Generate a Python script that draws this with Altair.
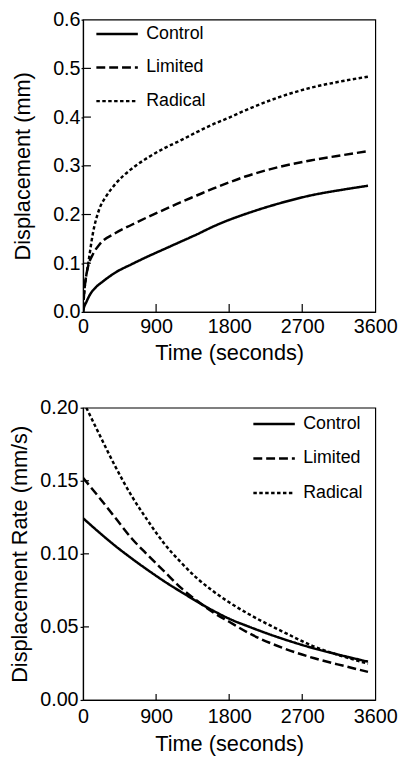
import altair as alt
import pandas as pd

FONT = "Liberation Sans"
SERIES = ["Control", "Limited", "Radical"]
DASHES = [[1, 0], [9, 4], [3.5, 2.5]]
X_LABELS = [0, 900, 1800, 2700, 3600]
X_INNER = [900, 1800, 2700]

# ---- top panel: displacement (mm) ----
disp_ctrl_t = [0, 10, 40, 80, 160, 240, 400, 600, 800, 1000, 1200, 1400, 1600, 1800, 2000, 2400, 2800, 3200, 3510]
disp_ctrl_v = [0, 0.008, 0.020, 0.034, 0.051, 0.062, 0.081, 0.098, 0.114, 0.129, 0.144, 0.159, 0.175, 0.189, 0.201, 0.222, 0.239, 0.251, 0.259]
disp_lim_t = [0, 10, 20, 40, 60, 120, 200, 400, 600, 800, 1000, 1200, 1400, 1600, 1800, 2000, 2400, 2800, 3200, 3510]
disp_lim_v = [0, 0.030, 0.050, 0.075, 0.092, 0.118, 0.138, 0.162, 0.179, 0.195, 0.210, 0.225, 0.239, 0.253, 0.266, 0.278, 0.297, 0.311, 0.322, 0.330]
disp_rad_t = [0, 10, 20, 40, 60, 120, 200, 280, 400, 600, 800, 1000, 1200, 1400, 1600, 1800, 2000, 2400, 2800, 3200, 3510]
disp_rad_v = [0, 0.030, 0.050, 0.075, 0.095, 0.160, 0.211, 0.236, 0.263, 0.294, 0.317, 0.336, 0.352, 0.369, 0.385, 0.399, 0.414, 0.440, 0.460, 0.474, 0.483]
disp_y_labels = [0, 0.1, 0.2, 0.3, 0.4, 0.5, 0.6]
disp_y_inner = [0.1, 0.2, 0.3, 0.4, 0.5]

# ---- bottom panel: displacement rate (mm/s) ----
rate_t = [0, 200, 400, 600, 800, 1000, 1200, 1400, 1600, 1800, 2050, 2450, 2850, 3250, 3510]
rate_ctrl = [0.1244, 0.1146, 0.1053, 0.0968, 0.0888, 0.0812, 0.0742, 0.0675, 0.0612, 0.0556, 0.0500, 0.0420, 0.0352, 0.0296, 0.0262]
rate_lim = [0.1520, 0.1385, 0.1245, 0.1105, 0.0990, 0.0880, 0.0770, 0.0680, 0.0600, 0.0535, 0.0455, 0.0358, 0.0285, 0.0228, 0.0192]
rate_rad_t = [40, 200, 400, 600, 800, 1000, 1200, 1400, 1600, 1800, 2050, 2450, 2850, 3250, 3510]
rate_rad = [0.2000, 0.1818, 0.1595, 0.1395, 0.1225, 0.1070, 0.0945, 0.0835, 0.0745, 0.0668, 0.0585, 0.0470, 0.0365, 0.0290, 0.0248]
rate_y_labels = [0, 0.05, 0.10, 0.15, 0.20]
rate_y_inner = [0.05, 0.10, 0.15]


def long_df(ts, vs):
    rows = []
    for name, t, v in zip(SERIES, ts, vs):
        rows += [{"series": name, "t": a, "v": b} for a, b in zip(t, v)]
    return pd.DataFrame(rows)


def panel(df, ytitle, ydomain, ylabels, yinner, yfmt, ytick, ylabpad, ytitlepad,
          xlabpad, xtitlepad, lx, ly, rowpad, w, h, inner_px):
    x_enc = alt.X("t:Q", scale=alt.Scale(domain=[0, 3600], nice=False, zero=False),
                  axis=alt.Axis(values=X_LABELS, format="d", title="Time (seconds)",
                                ticks=False, labelPadding=xlabpad, titlePadding=xtitlepad,
                                labelFlush=False, labelOverlap=False))
    y_enc = alt.Y("v:Q", scale=alt.Scale(domain=ydomain, nice=False, zero=False),
                  axis=alt.Axis(values=ylabels, format=yfmt, title=ytitle,
                                tickSize=ytick, labelPadding=ylabpad, titlePadding=ytitlepad,
                                labelFlush=False, labelOverlap=False))
    lines = alt.Chart(df).mark_line(color="black", strokeWidth=2.5, clip=True,
                                    interpolate="monotone").encode(
        x=x_enc, y=y_enc,
        strokeDash=alt.StrokeDash(
            "series:N", scale=alt.Scale(domain=SERIES, range=DASHES),
            legend=alt.Legend(title=None, orient="none", legendX=lx, legendY=ly,
                              symbolType="stroke", symbolSize=1764, symbolStrokeWidth=2.5,
                              symbolStrokeColor="black", labelFont=FONT, labelFontSize=18,
                              labelColor="black", labelOffset=7, rowPadding=rowpad, padding=0)))
    ylen = (ydomain[1] - ydomain[0]) * inner_px / h
    xlen = 3600 * inner_px / w
    xt = alt.Chart(pd.DataFrame({"t": X_INNER})).mark_rule(color="black", strokeWidth=1.2).encode(
        x=x_enc, y=alt.datum(0), y2=alt.datum(ylen))
    yt = alt.Chart(pd.DataFrame({"v": yinner})).mark_rule(color="black", strokeWidth=1.2).encode(
        y=y_enc, x=alt.datum(0), x2=alt.datum(xlen))
    return alt.layer(lines, xt, yt).properties(width=w, height=h)


top = panel(long_df([disp_ctrl_t, disp_lim_t, disp_rad_t], [disp_ctrl_v, disp_lim_v, disp_rad_v]),
            "Displacement (mm)", [0, 0.6], disp_y_labels, disp_y_inner, ".1f",
            2, 1, 18, 5, 6, 12, -8, 2, 296, 296, 8)
bottom = panel(long_df([rate_t, rate_t, rate_rad_t], [rate_ctrl, rate_lim, rate_rad]),
               "Displacement Rate (mm/s)", [0, 0.2], rate_y_labels, rate_y_inner, ".2f",
               3, 2, 8, 7, 7, 171, -6, 3, 296, 296, 6)

chart = alt.vconcat(top, bottom, spacing=33).properties(
    padding={"left": 0, "top": -4, "right": 0, "bottom": 0}
).resolve_scale(strokeDash="independent").resolve_legend(strokeDash="independent").configure_axis(
    labelFont=FONT, titleFont=FONT, labelFontSize=20, titleFontSize=22,
    titleFontWeight="normal", labelColor="black", titleColor="black",
    domainColor="black", tickColor="black", domainWidth=1.2, tickWidth=1.2, grid=False
).configure_view(stroke="black", strokeWidth=1.2)

chart.save("out.html", embed_options={"renderer": "svg", "actions": False})
